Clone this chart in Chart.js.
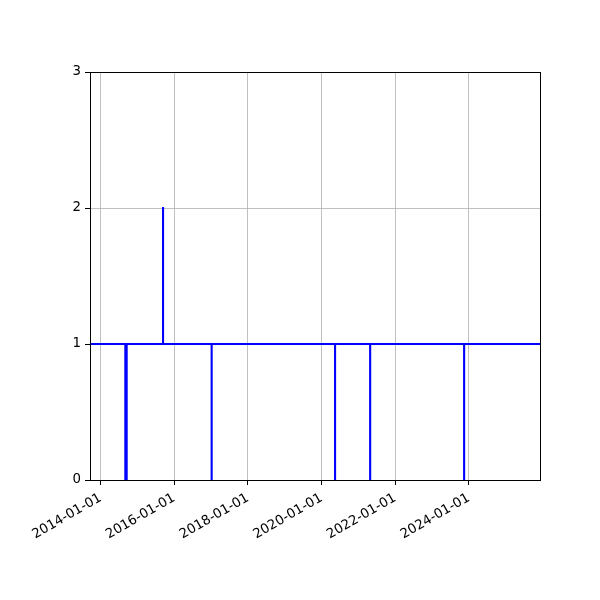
<!DOCTYPE html>
<html><head><meta charset="utf-8">
<script src="https://cdn.jsdelivr.net/npm/chart.js@4.4.0/dist/chart.umd.min.js"></script>
<style>html,body{margin:0;padding:0;background:#fff}#wrap{width:600px;height:600px}</style>
</head><body><div id="wrap"><canvas id="c" width="600" height="600"></canvas></div>
<script>
const dates = ['2013-09-18','2014-09-03','2014-09-17','2015-09-12','2015-09-13','2017-01-06','2017-01-07','2020-05-14','2020-05-15','2021-04-27','2021-04-28','2023-11-15','2023-11-16','2025-12-07'];
const values = [1,0,1,2,1,0,1,0,1,0,1,0,1,1];
const tickDates = ['2014-01-01','2016-01-01','2018-01-01','2020-01-01','2022-01-01','2024-01-01'];
const yTicks = [0,1,2,3];
const xMin = '2013-09-18', xMax = '2025-12-07';

const pts = dates.map((d,i)=>({x: Date.parse(d), y: values[i]}));
const font = {family:'DejaVu Sans', size:13.33};
const frame = {id:'frame', afterDraw(c){const a=c.chartArea,ctx=c.ctx;ctx.save();ctx.strokeStyle='#000';ctx.lineWidth=1;ctx.strokeRect(Math.round(a.left)+0.5,Math.round(a.top)+0.5,Math.round(a.right-a.left),Math.round(a.bottom-a.top));ctx.restore();}};
new Chart(document.getElementById('c'), {
  type:'line',
  data:{datasets:[{data:pts, borderColor:'#0000ff', borderWidth:2, pointRadius:0, stepped:true, fill:false}]},
  options:{
    responsive:false, animation:false, devicePixelRatio:1,
    layout:{padding:{left:0,right:60,top:72,bottom:0}},
    plugins:{legend:{display:false}, tooltip:{enabled:false}},
    scales:{
      x:{type:'linear', min:Date.parse(xMin), max:Date.parse(xMax),
        afterBuildTicks(s){s.ticks = tickDates.map(d=>({value:Date.parse(d)}));},
        afterFit(s){s.height=120;},
        ticks:{font, color:'#000', maxRotation:30, minRotation:30, padding:5,
          callback(v){const i=tickDates.findIndex(d=>Date.parse(d)===v);return i>=0?tickDates[i]:'';}},
        grid:{color:'#b0b0b0', lineWidth:0.8, tickColor:'#000', tickLength:5, tickWidth:1},
        border:{color:'#000', width:1}},
      y:{type:'linear', min:0, max:3,
        afterBuildTicks(s){s.ticks = yTicks.map(v=>({value:v}));},
        afterFit(s){s.width=90;},
        ticks:{font, color:'#000', padding:4},
        grid:{color:'#b0b0b0', lineWidth:0.8, tickColor:'#000', tickLength:5, tickWidth:1},
        border:{color:'#000', width:1}}
    }
  },
  plugins:[frame]
});
</script></body></html>
